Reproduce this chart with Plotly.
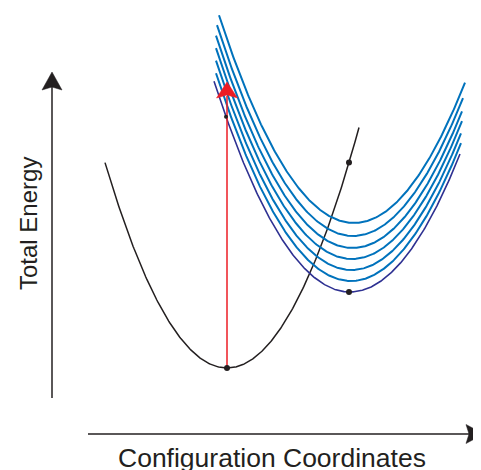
import numpy as np
import plotly.graph_objects as go

# ---------------- data (configuration coordinate q, total energy E) ----------------
# Ground-state potential well
ground_q_min = 227
ground_E_min = 102
ground_curv = 0.0138
ground_q_range = [105, 359]
ground_dots_q = [227, 349]

# Excited-state potential wells (lowest first)
exc_curv = 0.0114
exc_E_min = [178, 189, 200, 211, 222, 234, 247]
exc_q_min = [350, 351, 351.5, 352, 352.5, 353, 354]
exc_q_left = [214, 216, 216, 216, 216, 217, 219]
exc_q_right = [460, 461, 461, 462, 462, 463, 465]
exc_dot_q = [349]

# Vertical (absorption) transition
abs_q = 227
abs_E_top = 388

# Axis arrows
energy_axis_q = 52
energy_axis_E = [72, 398]
coord_axis_E = 36
coord_axis_q = [88, 484]

axis_titles = ["Configuration Coordinates", "Total Energy"]

# ---------------- styling ----------------
BLACK = "#231f20"
BLUE = "#0072bc"
PURPLE = "#2e3192"
RED = "#ed1c24"
FONT = "Liberation Sans, Arial, Helvetica, sans-serif"

# page body has an 8px margin: the figure starts at (8, 8) in the window
PAGE_OFF = 8
WIN_W, WIN_H = 481, 470


def ground(q):
    return ground_E_min + ground_curv * (q - ground_q_min) ** 2


def excited(q, i):
    return exc_E_min[i] + exc_curv * (q - exc_q_min[i]) ** 2


def arrow_head(tx, ty, direction, length, half_w, notch):
    if direction == "up":
        pts = [(tx, ty), (tx - half_w, ty - length), (tx, ty - length + notch), (tx + half_w, ty - length)]
    else:
        pts = [(tx, ty), (tx - length, ty + half_w), (tx - length + notch, ty), (tx - length, ty - half_w)]
    return "M " + " L ".join(f"{x},{y}" for x, y in pts) + " Z"


fig = go.Figure()

# Ground state curve
qg = np.linspace(ground_q_range[0], ground_q_range[1], 300)
fig.add_trace(go.Scatter(x=qg, y=ground(qg), mode="lines",
                         line=dict(color=BLACK, width=1.5), hoverinfo="skip"))

# Excited state curves (top first so the lowest sits on top)
for i in reversed(range(len(exc_E_min))):
    q = np.linspace(exc_q_left[i], exc_q_right[i], 300)
    color = PURPLE if i == 0 else BLUE
    width = 1.6 if i == 0 else 2.0
    fig.add_trace(go.Scatter(x=q, y=excited(q, i), mode="lines",
                             line=dict(color=color, width=width), hoverinfo="skip"))

# Red transition line
head_len, head_hw = 16, 10.5
fig.add_trace(go.Scatter(x=[abs_q, abs_q], y=[ground(abs_q), abs_E_top - head_len + 2],
                         mode="lines", line=dict(color=RED, width=1.5), hoverinfo="skip"))

# Dots
dot_q = list(ground_dots_q)
dot_E = [ground(q) for q in ground_dots_q]
dot_q += exc_dot_q
dot_E += [excited(q, 0) for q in exc_dot_q]
fig.add_trace(go.Scatter(x=dot_q, y=dot_E, mode="markers",
                         marker=dict(color=BLACK, size=6), hoverinfo="skip"))
fig.add_trace(go.Scatter(x=[abs_q - 1], y=[excited(abs_q - 1, 0)], mode="markers",
                         marker=dict(color=BLACK, size=4), hoverinfo="skip"))

shapes = [
    dict(type="line", xref="x", yref="y", x0=energy_axis_q, x1=energy_axis_q,
         y0=energy_axis_E[0], y1=energy_axis_E[1] - 12, line=dict(color=BLACK, width=1.5)),
    dict(type="path", xref="x", yref="y",
         path=arrow_head(energy_axis_q, energy_axis_E[1], "up", 18, 10, 3),
         fillcolor=BLACK, line=dict(color=BLACK, width=0.5)),
    dict(type="line", xref="x", yref="y", x0=coord_axis_q[0], x1=coord_axis_q[1] - 12,
         y0=coord_axis_E, y1=coord_axis_E, line=dict(color=BLACK, width=1.5)),
    dict(type="path", xref="x", yref="y",
         path=arrow_head(coord_axis_q[1], coord_axis_E, "right", 18, 9.5, 3),
         fillcolor=BLACK, line=dict(color=BLACK, width=0.5)),
    dict(type="path", xref="x", yref="y",
         path=arrow_head(abs_q, abs_E_top, "up", head_len, head_hw, 3),
         fillcolor=RED, line=dict(color=RED, width=0.5), layer="above"),
]

annotations = [
    dict(text=axis_titles[0], x=272, y=12, xref="x", yref="y", showarrow=False,
         font=dict(family=FONT, size=26.5, color=BLACK), xanchor="center", yanchor="middle"),
    dict(text=axis_titles[1], x=28, y=246, xref="x", yref="y", showarrow=False, textangle=-90,
         font=dict(family=FONT, size=24, color=BLACK), xanchor="center", yanchor="middle"),
]

fig.update_layout(
    width=WIN_W - PAGE_OFF, height=WIN_H - PAGE_OFF,
    margin=dict(l=0, r=0, t=0, b=0),
    paper_bgcolor="white", plot_bgcolor="white",
    showlegend=False,
    xaxis=dict(range=[PAGE_OFF, WIN_W], visible=False, fixedrange=True),
    yaxis=dict(range=[0, WIN_H - PAGE_OFF], visible=False, fixedrange=True),
    shapes=shapes, annotations=annotations,
)

fig.write_html("out.html", config=dict(displayModeBar=False))
